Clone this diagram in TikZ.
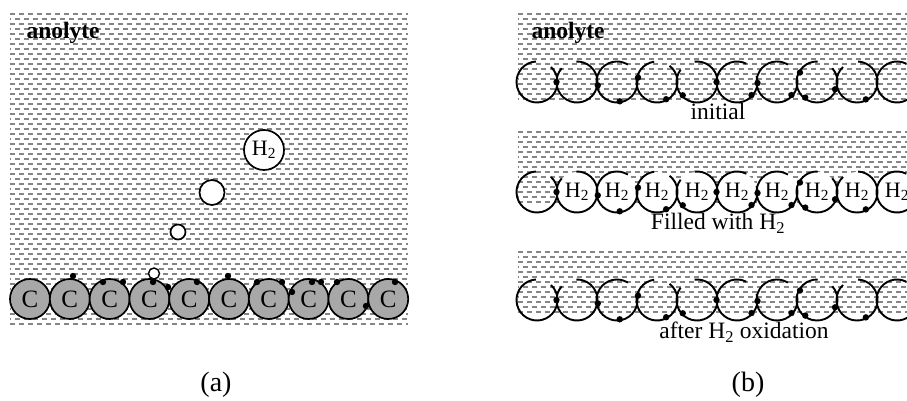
\documentclass[tikz,border=0pt]{standalone}
\usepackage{fontspec}
\setmainfont{Liberation Serif}
\usetikzlibrary{positioning,calc}
\definecolor{carbongray}{HTML}{A8A8A8}
\definecolor{hatchgray}{HTML}{858585}

\tikzset{
  hatch/.style={hatchgray, line width=1.4pt, dash pattern=on 5pt off 4pt},
  carbon/.style={circle, draw, line width=1.7pt, fill=carbongray, minimum size=40pt,
    inner sep=0pt, font=\fontsize{25}{25}\selectfont},
  bubble/.style={circle, draw, line width=1.7pt, fill=white, inner sep=0pt},
  shell/.style={line width=1.9pt},
  lbl/.style={font=\fontsize{23.5}{25}\selectfont},
  tag/.style={font=\fontsize{28}{30}\selectfont}
}

% rows of short dashes for the electrolyte: x from #1 to #2, top row #3, #4 rows more
\newcommand{\electrolyte}[4]{%
  \foreach \k [evaluate=\k as \ph using {mod(\k,2)*4.5}] in {0,...,#4}
    \draw[hatch, dash phase=\ph pt] (#1,#3-5*\k) -- (#2,#3-5*\k);
}
% one row of open carbon shells, centre line at #1
\newcommand{\shellrow}[1]{%
  \foreach \g [count=\i from 0] in {70,115,35,75,120,40,35,65,110,40}
    \draw[shell] (537+40*\i,#1) ++({\g+23}:20.5)
      arc[start angle=\g+23, end angle=\g+337, radius=20.5];
  % catalyst dots: shell number / angle
  \foreach \n/\a in {0/0,2/190,2/-82,3/167,3/-62,4/-137,4/0,5/-42,
                     6/183,6/-42,7/151,7/-127,7/-22,8/-63}
    \fill (537+40*\n,#1) ++(\a:19.5) circle (3.2pt);
}

\begin{document}
\begin{tikzpicture}[x=1pt,y=1pt]
  \useasboundingbox (0,0) rectangle (907,401);

  % (a) carbon grains with bubbles rising
  \electrolyte{10}{408}{387}{62}
  \foreach \i in {0,...,9}
    \node[carbon] (c\i) at (30+39.8*\i,102) {C};
  \node[bubble, minimum size=40pt, font=\fontsize{22}{22}\selectfont] (h2) at (264,251) {H\textsubscript{2}};
  \node[bubble, minimum size=25pt] (b2) at (212,208.5) {};
  \node[bubble, minimum size=15pt] (b3) at (178,169) {};
  \node[bubble, minimum size=11pt, line width=1.4pt] (b4) at (154,127.5) {};
  \foreach \x/\y in {73/125,103/119,123/119,153/119,168/114,197/119,228/125,
                     257/119,282/119,292/109,312/119,321/119,337/119,366/95,395/119}
    \fill (\x,\y) circle (3.2pt);
  \node[lbl, font=\fontsize{23.5}{25}\selectfont\bfseries, anchor=base west] (anoA) at (23,362) {anolyte};
  \node[tag, anchor=base] (tagA) at (216,9) {(a)};

  % (b) hollow shells: initial, filled, emptied
  \electrolyte{518}{907}{387}{17}
  \electrolyte{518}{907}{269}{14}
  \electrolyte{518}{907}{149}{12}
  \foreach \i in {1,...,9}
    \node[circle, fill=white, minimum size=40pt, inner sep=0pt,
      font=\fontsize{22}{22}\selectfont] (s\i) at (537+40*\i,209) {H\textsubscript{2}};
  \shellrow{319}
  \shellrow{209}
  \shellrow{101}
  \node[lbl, font=\fontsize{23.5}{25}\selectfont\bfseries, anchor=base west] (anoB) at (528,362) {anolyte};
  \node[lbl, anchor=base] (initial) at (718,281) {initial};
  \node[lbl, anchor=base] (filled) at (718,171) {Filled with H\textsubscript{2}};
  \node[lbl, anchor=base] (oxid) at (744,62) {after H\textsubscript{2} oxidation};
  \node[tag, anchor=base] (tagB) at (748,9) {(b)};
\end{tikzpicture}
\end{document}
